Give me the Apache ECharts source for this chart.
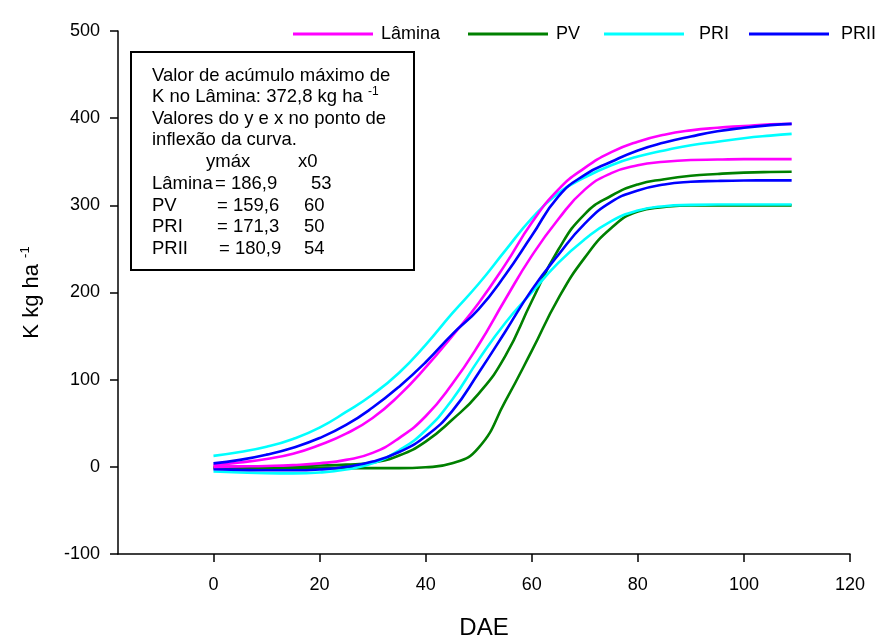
<!DOCTYPE html>
<html>
<head>
<meta charset="utf-8">
<title>K acumulado</title>
<script src="https://cdn.jsdelivr.net/npm/echarts@6/dist/echarts.min.js"></script>
<style>
  html, body { margin: 0; padding: 0; background: #fff; }
  #chart { width: 876px; height: 638px; }
</style>
</head>
<body>
<div id="chart"></div>
<script>
// dias após emergência (DAE)
var days = [0, 5, 10, 15, 20, 25, 30, 35, 40, 45, 50, 55, 60, 65, 70, 75, 80, 85, 90, 95, 100, 105, 109]

// K acumulado (kg/ha), duas curvas por tratamento
var laminaA = [2, 5, 9, 15, 25, 38, 56, 82, 114, 150, 188, 232, 280, 318, 343, 361, 373, 381, 386, 389, 391, 393, 393.5]
var laminaB = [0, 0.5, 1, 2, 4, 8, 16, 33, 58, 95, 140, 192, 242, 284, 318, 337, 346, 350, 352, 352.5, 353, 353, 353]
var pvA = [0, 0, 0.5, 1, 1.5, 2.5, 5, 13, 29, 54, 84, 127, 190, 249, 290, 311, 324, 330, 334, 336, 337.5, 338.3, 338.6]
var pvB = [-1.5, -1.5, -1.5, -1.5, -1.5, -1.5, -1.5, -1.5, -0.5, 4, 22, 75, 133, 193, 240, 274, 293, 298, 300, 300, 300, 300, 300]
var priA = [12.6, 17, 23, 32, 45, 63, 83, 108, 140, 176, 210, 248, 285, 314, 332, 346, 356, 363, 369, 373, 377, 380, 382]
var priB = [-5.3, -6.5, -7.3, -7.5, -6.5, -3, 4, 19, 42, 77, 123, 165, 200, 234, 261, 282, 294, 299, 300.5, 301, 301, 301, 301]
var priiA = [4, 8, 14, 22, 33, 48, 68, 92, 120, 152, 181, 220, 265, 310, 335, 350, 363, 372, 379, 385, 389, 392, 393.5]
var priiB = [-2.7, -3.5, -4, -4, -3, 0, 6, 17, 35, 64, 108, 155, 203, 243, 279, 304, 317, 324, 327, 328, 328.5, 328.6, 328.6]

var xTicks = [0, 20, 40, 60, 80, 100, 120]

// tabela do quadro
var tabNames = ['Lâmina', 'PV', 'PRI', 'PRII']
var tabYmax = ['186,9', '159,6', '171,3', '180,9']
var tabX0 = ['53', '60', '50', '54']

var FONT = '"Liberation Sans", Arial, sans-serif'
var colors = { 'Lâmina': '#FF00FF', 'PV': '#008000', 'PRI': '#00FFFF', 'PRII': '#0000FF' }

function makeSeries (name, vals) {
  return {
    name: name,
    type: 'line',
    data: days.map(function (d, i) { return [d, vals[i]] }),
    showSymbol: false,
    symbol: 'none',
    smooth: 0.5,
    color: colors[name],
    lineStyle: { color: colors[name], width: 2.6 }
  }
}

function legendAt (name, left, gap) {
  return {
    data: [name],
    left: left,
    top: 25,
    padding: 0,
    icon: 'rect',
    itemWidth: 80,
    itemHeight: 3,
    selectedMode: false,
    textStyle: { fontSize: 18, color: '#000', fontFamily: FONT, padding: [0, 0, 6, gap] }
  }
}

function txt (x, y, s) {
  return { type: 'text', x: x, y: y, style: { text: s, font: '18.5px ' + FONT, fill: '#000', verticalAlign: 'middle' } }
}

// textos do quadro
var boxTexts = [
  { type: 'rect', shape: { x: 131, y: 52, width: 283, height: 218 }, style: { fill: '#fff', stroke: '#000', lineWidth: 2 } },
  txt(152, 76, 'Valor de acúmulo máximo de'),
  {
    type: 'text', x: 152, y: 97,
    style: {
      text: '{n|K no Lâmina: 372,8 kg ha }{s|-1}',
      fill: '#000',
      verticalAlign: 'middle',
      rich: {
        n: { fontSize: 18.5, fontFamily: FONT, lineHeight: 22 },
        s: { fontSize: 12, fontFamily: FONT, verticalAlign: 'top', lineHeight: 22, padding: [0, 0, 12, 0] }
      }
    }
  },
  txt(152, 119, 'Valores do y e x no ponto de'),
  txt(152, 140, 'inflexão da curva.'),
  txt(206, 162, 'ymáx'),
  txt(298, 162, 'x0')
]
var eqX = [215, 217, 217, 219]
var x0X = [311, 304, 304, 304]
tabNames.forEach(function (nm, i) {
  var y = 184 + i * 21.7
  boxTexts.push(txt(152, y, nm))
  boxTexts.push(txt(eqX[i], y, '= ' + tabYmax[i]))
  boxTexts.push(txt(x0X[i], y, tabX0[i]))
})

var chart = echarts.init(document.getElementById('chart'))
var option = {
  animation: false,
  backgroundColor: '#fff',
  textStyle: { fontFamily: FONT },
  legend: [
    legendAt('Lâmina', 293, 3),
    legendAt('PV', 468, 3),
    legendAt('PRI', 604, 10),
    legendAt('PRII', 749, 7)
  ],
  grid: { left: 118, right: 26, top: 31, bottom: 84, outerBoundsMode: 'none' },
  xAxis: {
    type: 'value',
    min: -18,
    max: 120,
    name: 'DAE',
    nameLocation: 'middle',
    nameGap: 62,
    nameTextStyle: { fontSize: 24, color: '#000', fontFamily: FONT },
    splitLine: { show: false },
    axisLine: { onZero: false, lineStyle: { color: '#000', width: 1.5 } },
    axisTick: { show: true, length: 8, lineStyle: { color: '#000', width: 1.5 }, customValues: xTicks },
    axisLabel: { fontSize: 18, color: '#000', margin: 22, customValues: xTicks, fontFamily: FONT }
  },
  yAxis: {
    type: 'value',
    min: -100,
    max: 500,
    interval: 100,
    name: '{a|K kg ha }{b|-1}',
    nameLocation: 'middle',
    nameGap: 74,
    nameTextStyle: {
      color: '#000',
      rich: {
        a: { fontSize: 22, fontFamily: FONT, color: '#000' },
        b: { fontSize: 13, fontFamily: FONT, color: '#000', verticalAlign: 'top', padding: [0, 0, 12, 0] }
      }
    },
    splitLine: { show: false },
    axisLine: { show: true, onZero: false, lineStyle: { color: '#000', width: 1.5 } },
    axisTick: { show: true, length: 8, lineStyle: { color: '#000', width: 1.5 } },
    axisLabel: { fontSize: 18, color: '#000', margin: 18, fontFamily: FONT }
  },
  graphic: boxTexts,
  series: [
    makeSeries('PV', pvB),
    makeSeries('PV', pvA),
    makeSeries('PRI', priB),
    makeSeries('PRII', priiB),
    makeSeries('Lâmina', laminaB),
    makeSeries('PRI', priA),
    makeSeries('Lâmina', laminaA),
    makeSeries('PRII', priiA)
  ]
}
chart.setOption(option)
</script>
</body>
</html>
